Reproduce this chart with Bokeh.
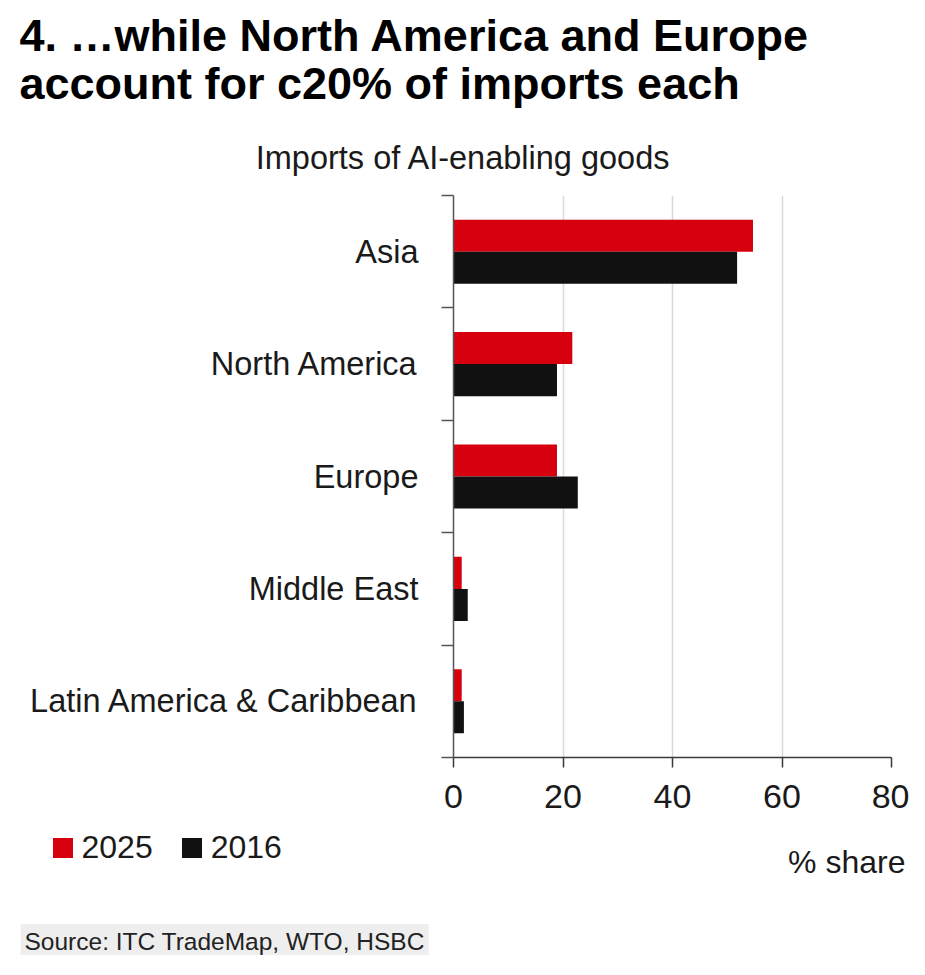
from bokeh.plotting import figure
from bokeh.layouts import column
from bokeh.models import Range1d, FixedTicker, Legend, LegendItem, ColumnDataSource, Label, Plot
from bokeh.transform import dodge
from bokeh.embed import file_html
from bokeh.resources import INLINE

# ---- data ----
title_lines = ["4. \u2026while North America and Europe", "account for c20% of imports each"]
subtitle = "Imports of AI-enabling goods"
regions = ["Asia", "North America", "Europe", "Middle East", "Latin America & Caribbean"]
share_2025 = [54.7, 21.7, 18.9, 1.5, 1.5]
share_2016 = [51.8, 18.9, 22.7, 2.6, 1.9]
series_names = ["2025", "2016"]
x_ticks = [0, 20, 40, 60, 80]
x_label = "% share"
source_text = "Source: ITC TradeMap, WTO, HSBC"

# ---- style ----
RED = "#d7000f"
BLACK = "#111111"
FONT = "Liberation Sans"
TXT = "#1a1a1a"
W = 909
HAS_FA = "frame_align" in Plot.properties()


def no_align(f):
    if HAS_FA:
        f.frame_align = False
    return f


def blank_fig(h):
    f = figure(width=W, height=h, x_range=Range1d(0, W), y_range=Range1d(h, 0),
               output_backend="svg", toolbar_location=None,
               x_axis_location=None, y_axis_location=None,
               min_border_left=0, min_border_right=0, min_border_top=0, min_border_bottom=0)
    f.outline_line_color = None
    f.xgrid.visible = False
    f.ygrid.visible = False
    f.background_fill_color = "white"
    f.border_fill_color = "white"
    return no_align(f)


def mid(baseline, size):
    # labels are placed by their vertical middle
    return baseline - 0.37 * size


# ---- top: titles ----
top = blank_fig(185)
for txt, yb in zip(title_lines, [52, 100]):
    top.add_layout(Label(x=19, y=mid(yb, 45), x_units="canvas", y_units="canvas", text=txt,
                         text_font=FONT, text_font_style="bold", text_font_size="45px",
                         text_color="black", text_baseline="middle"))
top.add_layout(Label(x=463, y=mid(170, 32.5), x_units="canvas", y_units="canvas", text=subtitle,
                     text_font=FONT, text_font_size="32.5px", text_color=TXT,
                     text_align="center", text_baseline="middle"))

# ---- main chart ----
n = len(regions)
pos = [n - 1 - i for i in range(n)]
src = ColumnDataSource(dict(y=pos, r25=share_2025, r16=share_2016, name=regions))

p = figure(width=W, height=645, x_range=Range1d(0, 80), y_range=Range1d(-0.5, n - 0.5),
           output_backend="svg", toolbar_location=None,
           min_border_left=453, min_border_right=18, min_border_top=10, min_border_bottom=73)
no_align(p)
p.outline_line_color = None
p.background_fill_color = "white"
p.border_fill_color = "white"

bh = 0.285
p.hbar(y=dodge("y", bh / 2), left=0, right="r25", height=bh, source=src,
       fill_color=RED, line_color=None)
p.hbar(y=dodge("y", -bh / 2), left=0, right="r16", height=bh, source=src,
       fill_color=BLACK, line_color=None)

xa = p.xaxis[0]
xa.ticker = FixedTicker(ticks=x_ticks)
xa.major_tick_out = 10
xa.major_tick_in = 0
xa.minor_tick_line_color = None
xa.axis_line_color = "#3a3a3a"
xa.axis_line_width = 1.5
xa.major_tick_line_color = "#3a3a3a"
xa.major_tick_line_width = 1.5
xa.major_label_text_font = FONT
xa.major_label_text_font_size = "34px"
xa.major_label_text_color = TXT
xa.major_label_standoff = 17

p.xgrid.ticker = FixedTicker(ticks=x_ticks)
p.xgrid.grid_line_color = "#d9d9d9"
p.xgrid.grid_line_width = 1.5
p.ygrid.visible = False

ya = p.yaxis[0]
ya.ticker = FixedTicker(ticks=pos, minor_ticks=[v - 0.5 for v in range(n + 1)])
ya.major_label_overrides = {pv: nm for pv, nm in zip(pos, regions)}
ya.major_tick_out = 0
ya.major_tick_in = 0
ya.major_tick_line_color = None
ya.minor_tick_out = 12
ya.minor_tick_in = 0
ya.minor_tick_line_color = "#555555"
ya.minor_tick_line_width = 1.5
ya.axis_line_color = "#555555"
ya.axis_line_width = 1.5
ya.major_label_text_font = FONT
ya.major_label_text_font_size = "32.5px"
ya.major_label_text_color = TXT
ya.major_label_standoff = 23

# ---- bottom: legend, unit, source ----
bot = blank_fig(125)
# hidden copies of the two series, used only to supply the legend swatches
k1 = bot.hbar(y="y", left=0, right="r25", height=bh, source=src,
              fill_color=RED, line_color=None, visible=False)
k2 = bot.hbar(y="y", left=0, right="r16", height=bh, source=src,
              fill_color=BLACK, line_color=None, visible=False)
leg = Legend(items=[LegendItem(label=series_names[0], renderers=[k1]),
                    LegendItem(label=series_names[1], renderers=[k2])],
             location=(49.5, 89), orientation="horizontal", click_policy="none",
             glyph_width=25, glyph_height=25, label_height=25, label_standoff=7, spacing=26,
             padding=0, margin=0, border_line_color=None, background_fill_alpha=0,
             label_text_font=FONT, label_text_font_size="32px", label_text_color=TXT)
bot.add_layout(leg)
bot.add_layout(Label(x=905, y=mid(43, 32), x_units="canvas", y_units="canvas", text=x_label,
                     text_font=FONT, text_font_size="32px", text_color=TXT,
                     text_align="right", text_baseline="middle"))
bot.add_layout(Label(x=20, y=mid(120, 24.5), x_units="canvas", y_units="canvas", text=source_text,
                     text_font=FONT, text_font_size="24.5px", text_color="#222222",
                     text_baseline="middle", background_fill_color="#eeeeee",
                     padding=4))

layout = column(top, p, bot, spacing=0)
open("out.html", "w").write(file_html(layout, INLINE))
